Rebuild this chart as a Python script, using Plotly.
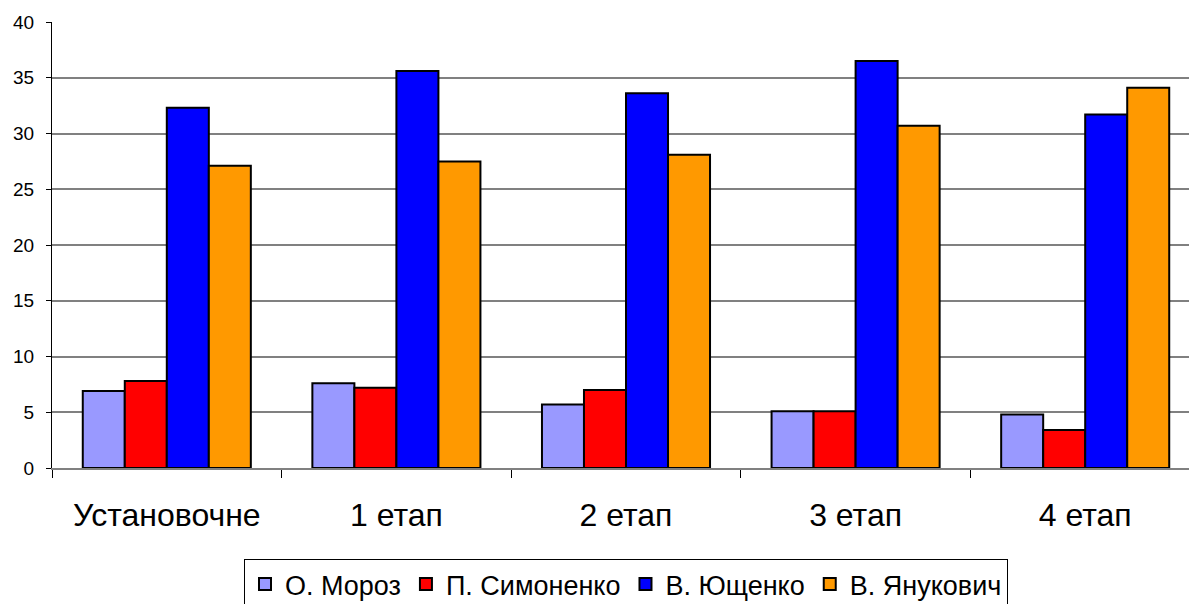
import plotly.graph_objects as go

categories = ["Установочне", "1 етап", "2 етап", "3 етап", "4 етап"]
moroz = [6.9, 7.6, 5.7, 5.1, 4.8]
symonenko = [7.8, 7.2, 7.0, 5.1, 3.4]
yushchenko = [32.3, 35.6, 33.6, 36.5, 31.7]
yanukovych = [27.1, 27.5, 28.1, 30.7, 34.1]
y_ticks = [0, 5, 10, 15, 20, 25, 30, 35, 40]

series = [
    ("О. Мороз", moroz, "#9999FF"),
    ("П. Симоненко", symonenko, "#FF0000"),
    ("В. Ющенко", yushchenko, "#0000FF"),
    ("В. Янукович", yanukovych, "#FF9900"),
]

fig = go.Figure()
for name, vals, color in series:
    fig.add_trace(go.Bar(
        x=categories, y=vals, name=name,
        marker=dict(color=color, line=dict(color="black", width=2)),
    ))

fig.update_layout(
    width=1200, height=604, autosize=False,
    margin=dict(l=52, r=0, t=22, b=136),
    plot_bgcolor="white", paper_bgcolor="white",
    barmode="group", bargap=0.268, bargroupgap=0,
    font=dict(family="Liberation Sans, Arial, sans-serif", color="black"),
    showlegend=True,
    legend=dict(
        orientation="h", x=0.5, xanchor="center",
        yref="container", y=1 - 559 / 604, yanchor="top",
        bordercolor="black", borderwidth=1,
        font=dict(size=27), itemwidth=30,
        traceorder="normal",
    ),
    xaxis=dict(
        automargin=False,
        showline=True, linecolor="#808080", linewidth=2,
        ticks="outside", tickson="boundaries", ticklen=8, tickcolor="black",
        tickfont=dict(size=32), ticklabelstandoff=18,
        showgrid=False,
    ),
    yaxis=dict(
        automargin=False,
        range=[0, 40], tickvals=y_ticks,
        showline=True, linecolor="black", linewidth=1,
        ticks="outside", ticklen=5, tickcolor="black",
        tickfont=dict(size=19), ticklabelstandoff=8,
        showgrid=True, gridcolor="#808080", gridwidth=1.5,
        zeroline=False,
    ),
)

fig.write_html(
    "out.html",
    config={"responsive": False, "displayModeBar": False},
    post_script="document.body.style.margin='0';document.body.style.overflow='hidden';",
)
